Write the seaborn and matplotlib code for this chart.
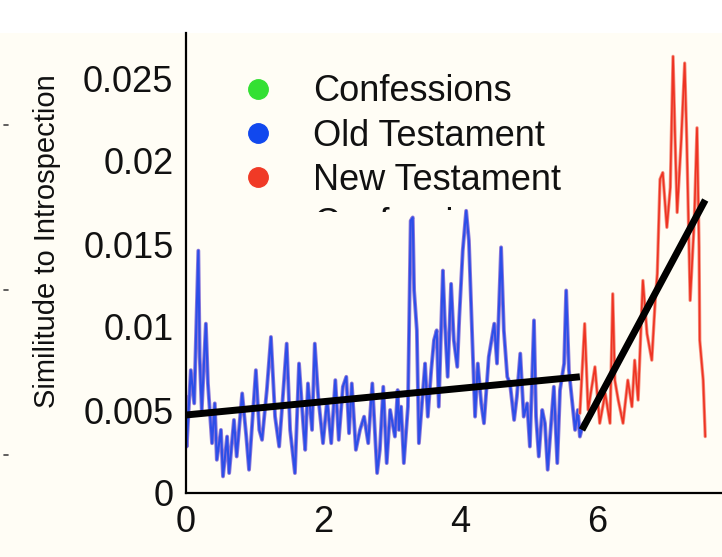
import numpy as np
import pandas as pd
import matplotlib
matplotlib.use("Agg")
import matplotlib.pyplot as plt
from matplotlib.lines import Line2D
from matplotlib.patches import Rectangle
from matplotlib.transforms import Bbox
import seaborn as sns

# ---------------- data ----------------
old_x = [0.00, 0.01, 0.07, 0.12, 0.18, 0.20, 0.23, 0.29, 0.32, 0.38, 0.42, 0.45, 0.51, 0.54,
         0.60, 0.63, 0.70, 0.74, 0.82, 0.88, 0.92, 1.02, 1.07, 1.11, 1.18, 1.24, 1.30, 1.36,
         1.40, 1.47, 1.52, 1.59, 1.65, 1.71, 1.74, 1.78, 1.84, 1.88, 1.93, 2.00, 2.06, 2.12,
         2.18, 2.23, 2.29, 2.34, 2.38, 2.42, 2.48, 2.54, 2.60, 2.66, 2.72, 2.79, 2.83, 2.88,
         2.93, 2.98, 3.05, 3.09, 3.11, 3.14, 3.18, 3.24, 3.28, 3.31, 3.33, 3.37, 3.40, 3.46,
         3.49, 3.53, 3.58, 3.62, 3.66, 3.69, 3.75, 3.78, 3.82, 3.87, 3.91, 3.96, 3.99, 4.04,
         4.09, 4.13, 4.18, 4.22, 4.26, 4.31, 4.35, 4.42, 4.50, 4.54, 4.60, 4.64, 4.69, 4.73,
         4.79, 4.83, 4.88, 4.93, 4.98, 5.02, 5.08, 5.11, 5.15, 5.20, 5.24, 5.28, 5.33, 5.37,
         5.42, 5.46, 5.52, 5.55, 5.59, 5.64, 5.68, 5.72, 5.75, 5.80]
old_y = [0.0058, 0.0028, 0.0074, 0.0054, 0.0146, 0.0082, 0.0050, 0.0102, 0.0066, 0.0030, 0.0054,
         0.0020, 0.0038, 0.0010, 0.0034, 0.0012, 0.0044, 0.0022, 0.0060, 0.0034, 0.0014, 0.0074,
         0.0038, 0.0032, 0.0062, 0.0094, 0.0046, 0.0028, 0.0050, 0.0090, 0.0038, 0.0012, 0.0078,
         0.0042, 0.0026, 0.0066, 0.0038, 0.0090, 0.0058, 0.0030, 0.0056, 0.0030, 0.0068, 0.0032,
         0.0064, 0.0070, 0.0036, 0.0066, 0.0026, 0.0038, 0.0046, 0.0030, 0.0066, 0.0012, 0.0026,
         0.0064, 0.0018, 0.0050, 0.0034, 0.0062, 0.0038, 0.0052, 0.0018, 0.0052, 0.0164, 0.0166,
         0.0122, 0.0098, 0.0030, 0.0062, 0.0078, 0.0046, 0.0074, 0.0092, 0.0098, 0.0052, 0.0134,
         0.0102, 0.0070, 0.0126, 0.0092, 0.0076, 0.0106, 0.0146, 0.0170, 0.0152, 0.0092, 0.0046,
         0.0078, 0.0054, 0.0042, 0.0082, 0.0102, 0.0078, 0.0148, 0.0098, 0.0070, 0.0066, 0.0044,
         0.0058, 0.0084, 0.0046, 0.0054, 0.0028, 0.0104, 0.0046, 0.0022, 0.0050, 0.0042, 0.0014,
         0.0042, 0.0064, 0.0018, 0.0062, 0.0078, 0.0122, 0.0074, 0.0054, 0.0038, 0.0050, 0.0034,
         0.0042]

new_x = [5.75, 5.82, 5.87, 5.97, 6.04, 6.12, 6.19, 6.23, 6.26, 6.31, 6.38, 6.45, 6.51, 6.55,
         6.60, 6.67, 6.73, 6.80, 6.85, 6.88, 6.92, 6.96, 7.02, 7.07, 7.11, 7.14, 7.17, 7.23,
         7.28, 7.31, 7.36, 7.42, 7.46, 7.49, 7.50, 7.55, 7.58]
new_y = [0.0048, 0.0102, 0.0050, 0.0076, 0.0042, 0.0060, 0.0042, 0.0120, 0.0068, 0.0056, 0.0042,
         0.0068, 0.0052, 0.0080, 0.0056, 0.0128, 0.0096, 0.0080, 0.0116, 0.0132, 0.0189, 0.0193,
         0.0160, 0.0184, 0.0263, 0.0213, 0.0169, 0.0213, 0.0259, 0.0213, 0.0116, 0.0164, 0.0220,
         0.0148, 0.0092, 0.0068, 0.0034]

trend_old_x = [0.00, 5.75]
trend_old_y = [0.0047, 0.0070]
trend_new_x = [5.78, 7.58]
trend_new_y = [0.0038, 0.01765]

legend_labels = ["Confessions", "Old Testament", "New Testament"]
legend_colors = ["#33e033", "#1148ee", "#f03a26"]

x_ticks = [0, 2, 4, 6]
y_ticks = [0, 0.005, 0.01, 0.015, 0.02, 0.025]
y_tick_labels = ["0", "0.005", "0.01", "0.015", "0.02", "0.025"]
y_label = "Similitude to Introspection"

# ---------------- figure ----------------
sns.set_theme(style="white")
plt.rcParams["font.family"] = ["Liberation Sans", "DejaVu Sans"]
BG = "#fffdf5"

W, H = 722, 557
fig = plt.figure(figsize=(W / 100, H / 100), dpi=100, facecolor=BG)
fig.patches.append(Rectangle((0, (H - 33) / H), 1, 33 / H, transform=fig.transFigure,
                             facecolor="white", edgecolor="none", zorder=-5))
ax = fig.add_axes([186 / W, (H - 493) / H, (W - 186) / W, (493 - 33) / H])
ax.set_facecolor(BG)

old_df = pd.DataFrame({"x": old_x, "y": old_y})
new_df = pd.DataFrame({"x": new_x, "y": new_y})

sns.lineplot(data=old_df, x="x", y="y", ax=ax, color="#8f7ad8", lw=2.8, estimator=None, sort=False)
sns.lineplot(data=old_df, x="x", y="y", ax=ax, color="#2c4ee8", lw=1.5, estimator=None, sort=False)
sns.lineplot(data=new_df, x="x", y="y", ax=ax, color="#f59080", lw=2.4, estimator=None, sort=False)
sns.lineplot(data=new_df, x="x", y="y", ax=ax, color="#ee3322", lw=1.2, estimator=None, sort=False)

sns.lineplot(x=trend_old_x, y=trend_old_y, ax=ax, color="black", lw=5, estimator=None,
             solid_capstyle="butt")
sns.lineplot(x=trend_new_x, y=trend_new_y, ax=ax, color="black", lw=5, estimator=None,
             solid_capstyle="butt")

ax.set_xlim(0, (W - 186) / 68.5)
ax.set_ylim(0, (493 - 33) / 16600)
ax.set_xticks(x_ticks)
ax.set_xticklabels([str(t) for t in x_ticks])
ax.set_yticks(y_ticks)
ax.set_yticklabels(y_tick_labels)
ax.tick_params(axis="both", direction="in", length=5, width=1, color="black",
               labelsize=26, labelcolor="#111111")
ax.tick_params(axis="y", pad=9)
ax.tick_params(axis="x", pad=9)
ax.set_xlabel("")
ax.set_ylabel("")

for s in ["top", "right"]:
    ax.spines[s].set_visible(False)
for s in ["left", "bottom"]:
    ax.spines[s].set_color("black")
    ax.spines[s].set_linewidth(1.6)

fig.text(47 / W, 1 - 241 / H, y_label, rotation=90, ha="center", va="center",
         fontsize=21, color="#111111")

# faint marks at the left edge
for py in (125, 290, 455):
    fig.add_artist(Line2D([4 / W, 8 / W], [1 - py / H, 1 - py / H], color="#444444", lw=1.2))

handles = [Line2D([], [], marker="o", linestyle="none", markersize=14,
                  markerfacecolor=c, markeredgecolor=c) for c in legend_colors]
leg = ax.legend(handles, legend_labels, loc="upper left",
                bbox_to_anchor=(229 / W, 1 - 67 / H), bbox_transform=fig.transFigure,
                fontsize=26, frameon=True, facecolor=BG, edgecolor="none", framealpha=1,
                handletextpad=0.92, labelspacing=0.26, borderpad=0.2, handlelength=1.2,
                borderaxespad=0)
for t in leg.get_texts():
    t.set_color("#111111")

# partially hidden legend text fragment beneath the legend
ghost = fig.text(313 / W, 1 - 234 / H, "Confessions", fontsize=26, color="#111111",
                 ha="left", va="baseline")
ghost.set_clip_box(Bbox.from_extents(0, H - 212, W, H - 203))
ghost.set_clip_on(True)

fig.savefig("out.png", dpi=100, facecolor=BG)
